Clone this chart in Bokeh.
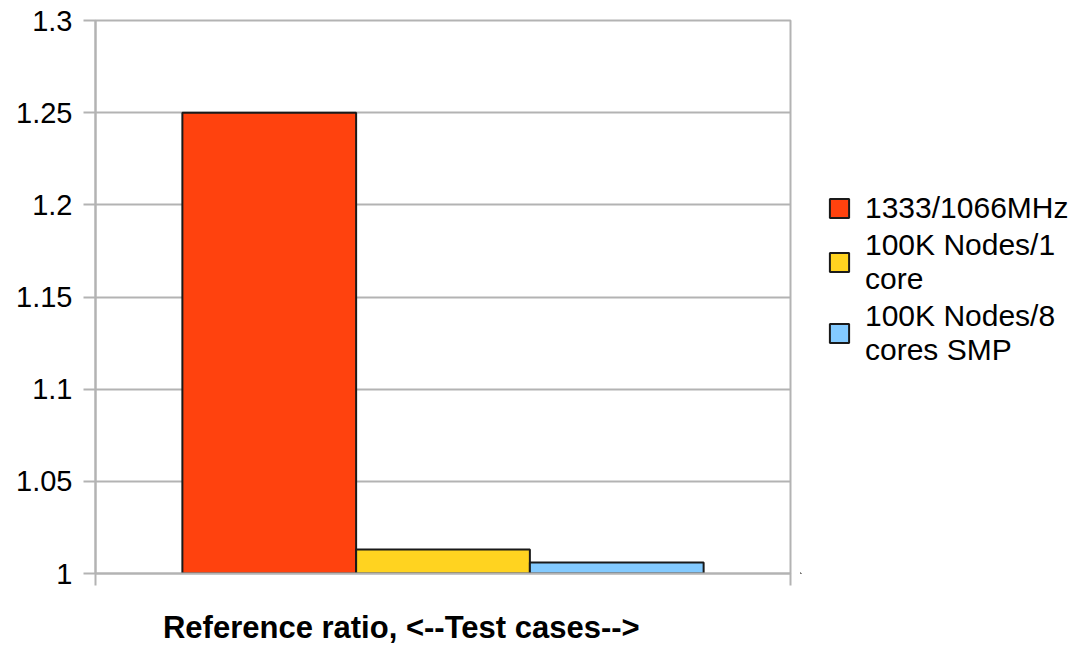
from bokeh.plotting import figure
from bokeh.layouts import row
from bokeh.models import (Range1d, FixedTicker, LinearAxis, Legend, LegendItem, ColumnDataSource)
from bokeh.embed import file_html
from bokeh.resources import INLINE

# ---- data ----
category = "Reference ratio, <--Test cases-->"
series_names = ["1333/1066MHz", "100K Nodes/1\ncore", "100K Nodes/8\ncores SMP"]
series_values = [1.25, 1.013, 1.006]
series_colors = ["#ff420e", "#ffd320", "#83caff"]
y_ticks = [1.0, 1.05, 1.1, 1.15, 1.2, 1.25, 1.3]
y_tick_labels = ["1", "1.05", "1.1", "1.15", "1.2", "1.25", "1.3"]
baseline = 1.0

FONT = "Liberation Sans"
GRID = "#b3b3b3"
EDGE = "#1a1a1a"

p = figure(width=800, height=647,
           x_range=Range1d(0, 1),
           y_range=Range1d(y_ticks[0], y_ticks[-1]),
           x_axis_location=None,
           output_backend="svg", toolbar_location=None,
           min_border_left=95, min_border_top=20, min_border_right=10, min_border_bottom=69)
p.background_fill_color = "white"
p.border_fill_color = "white"
p.outline_line_color = GRID
p.outline_line_width = 2

bar_width = 0.25
n = len(series_values)
sources = []
for i, (val, col) in enumerate(zip(series_values, series_colors)):
    xc = 0.5 + (i - (n - 1) / 2) * bar_width
    src = ColumnDataSource(dict(x=[xc], top=[val], bottom=[baseline]))
    sources.append(src)
    p.vbar(x="x", top="top", bottom="bottom", width=bar_width, source=src,
           fill_color=col, line_color=EDGE, line_width=2)

# y axis
yax = p.yaxis[0]
yax.ticker = FixedTicker(ticks=y_ticks)
yax.major_label_overrides = dict(zip(y_ticks, y_tick_labels))
yax.axis_line_color = GRID
yax.axis_line_width = 2
yax.major_tick_line_color = GRID
yax.major_tick_line_width = 2
yax.major_tick_out = 12
yax.major_tick_in = 0
yax.minor_tick_line_color = None
yax.major_label_text_font = FONT
yax.major_label_text_font_size = "29px"
yax.major_label_text_color = "black"
yax.major_label_standoff = 11

p.xgrid.visible = False
p.ygrid.grid_line_color = GRID
p.ygrid.grid_line_width = 2

# bottom edge ticks at category boundaries
edge_axis = LinearAxis(ticker=FixedTicker(ticks=[0, 1]),
                       major_label_overrides={0: " ", 1: " "},
                       major_label_text_font_size="2px", major_label_standoff=0,
                       major_tick_out=12, major_tick_in=0, minor_tick_line_color=None,
                       axis_line_color=GRID, axis_line_width=2,
                       major_tick_line_color=GRID, major_tick_line_width=2)
p.add_layout(edge_axis, "below")

label_pos = 0.44
cat_axis = LinearAxis(ticker=FixedTicker(ticks=[label_pos]),
                      major_label_overrides={label_pos: category},
                      axis_line_color=None, major_tick_line_color=None, minor_tick_line_color=None,
                      major_label_text_font=FONT, major_label_text_font_size="31px",
                      major_label_text_font_style="bold",
                      major_label_text_color="black", major_label_standoff=13)
p.add_layout(cat_axis, "below")

# legend panel (separate figure to the right of the chart); the same bars are
# drawn there but fall far outside its view, so only the legend shows
pl = figure(width=291, height=647, x_range=Range1d(10, 11), y_range=Range1d(10, 11),
            x_axis_location=None, y_axis_location=None, min_border=0,
            output_backend="svg", toolbar_location=None)
pl.outline_line_color = None
pl.grid.visible = False
pl.background_fill_color = "white"
pl.border_fill_color = "white"
items = []
for name, col, src in zip(series_names, series_colors, sources):
    r = pl.vbar(x="x", top="top", bottom="bottom", width=bar_width, source=src,
                fill_color=col, line_color=EDGE, line_width=2)
    items.append(LegendItem(label=name, renderers=[r]))

legend = Legend(items=items, location=(27, 206), padding=0, margin=0, spacing=3,
                border_line_color=None, background_fill_alpha=0,
                glyph_width=24, glyph_height=24, label_standoff=14,
                label_text_font=FONT, label_text_font_size="30px", label_text_color="black")
pl.add_layout(legend)

open("out.html", "w").write(file_html(row(p, pl), INLINE))
